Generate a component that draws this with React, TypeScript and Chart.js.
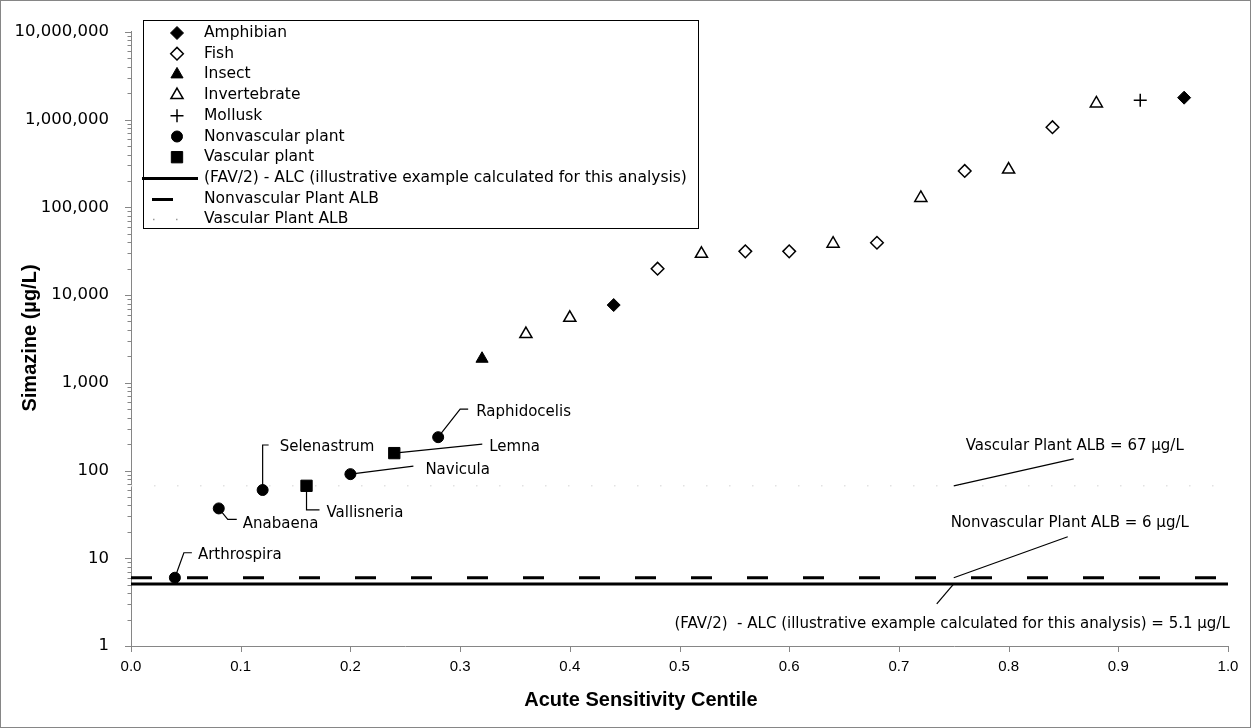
import React, { useEffect, useRef } from 'react';
import { Chart, registerables } from 'chart.js';

Chart.register(...registerables);

// ---------------- data ----------------
const amphibianX = [0.44, 0.96];
const amphibianY = [7700, 1780000];
const fishX = [0.48, 0.56, 0.6, 0.68, 0.76, 0.84];
const fishY = [20000, 31500, 31500, 39500, 260000, 820000];
const insectX = [0.32];
const insectY = [1880];
const invertebrateX = [0.36, 0.4, 0.52, 0.64, 0.72, 0.8, 0.88];
const invertebrateY = [3600, 5500, 29500, 38500, 128000, 270000, 1530000];
const molluskX = [0.92];
const molluskY = [1660000];
const nonvascularX = [0.04, 0.08, 0.12, 0.2, 0.28];
const nonvascularY = [6, 37, 60, 91, 240];
const nonvascularNames = ['Arthrospira', 'Anabaena', 'Selenastrum', 'Navicula', 'Raphidocelis'];
const vascularX = [0.16, 0.24];
const vascularY = [67, 158];
const vascularNames = ['Vallisneria', 'Lemna'];

const favHalfMinusAlc = 5.1;
const nonvascularAlb = 6;
const vascularAlb = 67;
const refLineX = [0, 1];

const xTickValues = [0, 0.1, 0.2, 0.3, 0.4, 0.5, 0.6, 0.7, 0.8, 0.9, 1.0];
const yTickValues = [1, 10, 100, 1000, 10000, 100000, 1000000, 10000000];

const xTitle = 'Acute Sensitivity Centile';
const yTitle = 'Simazine (µg/L)';
const favLabel = '(FAV/2) - ALC (illustrative example calculated for this analysis)';

// ---------------- layout / style (pixel offsets only) ----------------
const calloutLayout: Record<string, { path: number[][]; text: number[] }> = {
  Arthrospira: { path: [[9, -25], [17, -25]], text: [23, -23] },
  Anabaena: { path: [[9, 11], [18, 11]], text: [24, 16] },
  Selenastrum: { path: [[0, -45], [6, -45]], text: [17, -43] },
  Navicula: { path: [[63, -8]], text: [75, -4] },
  Raphidocelis: { path: [[22, -28], [30, -28]], text: [38, -25] },
  Vallisneria: { path: [[0, 24], [13, 24]], text: [20, 27] },
  Lemna: { path: [[88, -9]], text: [95, -6] },
};
const refAnchorX = 0.75;
const refLineNotes = [
  { value: vascularAlb, text: `Vascular Plant ALB = ${vascularAlb} µg/L`, path: [[120, -27]], at: [121, -40], align: 'center' },
  { value: nonvascularAlb, text: `Nonvascular Plant ALB = ${nonvascularAlb} µg/L`, path: [[114, -41]], at: [116, -55], align: 'center' },
  { value: favHalfMinusAlc, text: `(FAV/2)  - ALC (illustrative example calculated for this analysis) = ${favHalfMinusAlc} µg/L`, path: [[-17, 20]], at: [276, 40], align: 'right' },
];

const ANN_FONT = '15px "DejaVu Sans", sans-serif';
const LEG_FONT = '15.5px "DejaVu Sans", sans-serif';
const TITLE_FONT = 'bold 20px "Liberation Sans", Arial, sans-serif';
const AXIS_GRAY = '#868686';
const X_TITLE_POS = [641, 700];
const Y_TITLE_POS = [30, 338];

function drawMarker(ctx: CanvasRenderingContext2D, style: string, x: number, y: number, r: number, fill: string, stroke: string, lw: number) {
  ctx.save();
  ctx.beginPath();
  ctx.lineWidth = lw;
  ctx.strokeStyle = stroke;
  ctx.fillStyle = fill;
  if (style === 'rectRot') {
    ctx.moveTo(x - r, y); ctx.lineTo(x, y - r); ctx.lineTo(x + r, y); ctx.lineTo(x, y + r); ctx.closePath();
    ctx.fill(); ctx.stroke();
  } else if (style === 'triangle') {
    const a = (2 * Math.PI) / 3;
    ctx.moveTo(x, y - r);
    ctx.lineTo(x + Math.sin(a) * r, y - Math.cos(a) * r);
    ctx.lineTo(x + Math.sin(2 * a) * r, y - Math.cos(2 * a) * r);
    ctx.closePath(); ctx.fill(); ctx.stroke();
  } else if (style === 'cross') {
    ctx.moveTo(x - r, y); ctx.lineTo(x + r, y); ctx.moveTo(x, y - r); ctx.lineTo(x, y + r); ctx.stroke();
  } else if (style === 'circle') {
    ctx.arc(x, y, r, 0, Math.PI * 2); ctx.fill(); ctx.stroke();
  } else if (style === 'rect') {
    const s = r * Math.SQRT1_2;
    ctx.rect(x - s, y - s, 2 * s, 2 * s); ctx.fill(); ctx.stroke();
  }
  ctx.restore();
}

const backgroundPlugin = {
  id: 'bg',
  beforeDraw(chart: any) {
    const { ctx, width, height } = chart;
    ctx.save();
    ctx.fillStyle = '#fff';
    ctx.fillRect(0, 0, width, height);
    ctx.restore();
  },
  afterDraw(chart: any) {
    const { ctx, width, height } = chart;
    ctx.save();
    ctx.strokeStyle = AXIS_GRAY;
    ctx.lineWidth = 1;
    ctx.strokeRect(0.5, 0.5, width - 1, height - 1);
    ctx.restore();
  },
};

const ticksAndTitlesPlugin = {
  id: 'ticksTitles',
  afterDraw(chart: any) {
    const { ctx, chartArea, scales } = chart;
    const xs = scales.x, ys = scales.y;
    ctx.save();
    ctx.strokeStyle = AXIS_GRAY;
    ctx.lineWidth = 1;
    ctx.beginPath();
    for (let i = 0; i < yTickValues.length; i++) {
      const v = yTickValues[i];
      const py = Math.round(ys.getPixelForValue(v)) + 0.5;
      ctx.moveTo(chartArea.left - 6, py); ctx.lineTo(chartArea.left, py);
      if (i < yTickValues.length - 1) {
        for (let k = 2; k <= 9; k++) {
          const pm = Math.round(ys.getPixelForValue(v * k)) + 0.5;
          ctx.moveTo(chartArea.left - 3.5, pm); ctx.lineTo(chartArea.left, pm);
        }
      }
    }
    for (const v of xTickValues) {
      const px = Math.round(xs.getPixelForValue(v)) + 0.5;
      ctx.moveTo(px, chartArea.bottom); ctx.lineTo(px, chartArea.bottom + 6);
    }
    ctx.stroke();

    ctx.fillStyle = '#000';
    ctx.font = TITLE_FONT;
    ctx.textAlign = 'center';
    ctx.textBaseline = 'middle';
    ctx.fillText(xTitle, X_TITLE_POS[0], X_TITLE_POS[1]);
    ctx.translate(Y_TITLE_POS[0], Y_TITLE_POS[1]);
    ctx.rotate(-Math.PI / 2);
    ctx.fillText(yTitle, 0, 0);
    ctx.restore();
  },
};

const calloutPlugin = {
  id: 'callouts',
  beforeDatasetsDraw(chart: any) {
    const { ctx, scales } = chart;
    const xs = scales.x, ys = scales.y;
    ctx.save();
    ctx.strokeStyle = '#000';
    ctx.fillStyle = '#000';
    ctx.lineWidth = 1.2;
    ctx.font = ANN_FONT;
    ctx.textBaseline = 'middle';
    const groups: [number[], number[], string[]][] = [
      [nonvascularX, nonvascularY, nonvascularNames],
      [vascularX, vascularY, vascularNames],
    ];
    for (const [gx, gy, names] of groups) {
      names.forEach((name, i) => {
        const lay = calloutLayout[name];
        if (!lay) return;
        const px = xs.getPixelForValue(gx[i]);
        const py = ys.getPixelForValue(gy[i]);
        ctx.beginPath();
        ctx.moveTo(px, py);
        for (const [dx, dy] of lay.path) ctx.lineTo(px + dx, py + dy);
        ctx.stroke();
        ctx.textAlign = 'left';
        ctx.fillText(name, px + lay.text[0], py + lay.text[1]);
      });
    }
    for (const note of refLineNotes) {
      const px = xs.getPixelForValue(refAnchorX);
      const py = ys.getPixelForValue(note.value);
      ctx.beginPath();
      ctx.moveTo(px, py);
      for (const [dx, dy] of note.path) ctx.lineTo(px + dx, py + dy);
      ctx.stroke();
      ctx.textAlign = note.align as CanvasTextAlign;
      ctx.fillText(note.text, px + note.at[0], py + note.at[1]);
    }
    ctx.restore();
  },
};

const legendPlugin = {
  id: 'boxLegend',
  afterDatasetsDraw(chart: any) {
    const { ctx } = chart;
    const left = 143, top = 20, right = 698, bottom = 228;
    const firstY = 33, step = 20.7;
    ctx.save();
    ctx.fillStyle = '#fff';
    ctx.fillRect(left, top, right - left, bottom - top);
    ctx.strokeStyle = '#000';
    ctx.lineWidth = 1;
    ctx.strokeRect(left + 0.5, top + 0.5, right - left, bottom - top);
    chart.data.datasets.forEach((ds: any, i: number) => {
      const y = firstY + i * step;
      if (ds.showLine) {
        ctx.save();
        ctx.strokeStyle = ds.legendColor || ds.borderColor;
        ctx.lineWidth = ds.borderWidth;
        ctx.setLineDash(ds.borderDash || []);
        ctx.lineDashOffset = ds.legendDashOffset || 0;
        ctx.beginPath();
        ctx.moveTo(142, Math.round(y) + 0.5);
        ctx.lineTo(198, Math.round(y) + 0.5);
        ctx.stroke();
        ctx.restore();
      } else {
        drawMarker(ctx, ds.pointStyle, 177, y, ds.pointRadius, ds.backgroundColor, ds.borderColor, ds.borderWidth);
      }
      ctx.fillStyle = '#000';
      ctx.font = LEG_FONT;
      ctx.textAlign = 'left';
      ctx.textBaseline = 'middle';
      ctx.fillText(ds.label, 204, y);
    });
    ctx.restore();
  },
};

export default function App() {
  const ref = useRef<HTMLCanvasElement>(null);
  useEffect(() => {
    const canvas = ref.current;
    if (!canvas) return;
    const pts = (xs: number[], ys: number[]) => xs.map((x, i) => ({ x, y: ys[i] }));
    const flat = (v: number) => refLineX.map((x) => ({ x, y: v }));
    const chart = new Chart(canvas, {
      type: 'scatter',
      data: {
        datasets: [
          { label: 'Amphibian', data: pts(amphibianX, amphibianY), pointStyle: 'rectRot', pointRadius: 6.5, backgroundColor: '#000', borderColor: '#000', borderWidth: 1, order: 1 },
          { label: 'Fish', data: pts(fishX, fishY), pointStyle: 'rectRot', pointRadius: 6.3, backgroundColor: '#fff', borderColor: '#000', borderWidth: 1.5, order: 1 },
          { label: 'Insect', data: pts(insectX, insectY), pointStyle: 'triangle', pointRadius: 7, backgroundColor: '#000', borderColor: '#000', borderWidth: 1, order: 1 },
          { label: 'Invertebrate', data: pts(invertebrateX, invertebrateY), pointStyle: 'triangle', pointRadius: 7, backgroundColor: '#fff', borderColor: '#000', borderWidth: 1.5, order: 1 },
          { label: 'Mollusk', data: pts(molluskX, molluskY), pointStyle: 'cross', pointRadius: 6.5, backgroundColor: '#000', borderColor: '#000', borderWidth: 1.5, order: 1 },
          { label: 'Nonvascular plant', data: pts(nonvascularX, nonvascularY), pointStyle: 'circle', pointRadius: 5.5, backgroundColor: '#000', borderColor: '#000', borderWidth: 1, order: 1 },
          { label: 'Vascular plant', data: pts(vascularX, vascularY), pointStyle: 'rect', pointRadius: 8, backgroundColor: '#000', borderColor: '#000', borderWidth: 1, order: 1 },
          { label: favLabel, data: flat(favHalfMinusAlc), showLine: true, pointRadius: 0, borderColor: '#000', borderWidth: 3, order: 5 },
          { label: 'Nonvascular Plant ALB', data: flat(nonvascularAlb), showLine: true, pointRadius: 0, borderColor: '#000', borderWidth: 3, borderDash: [21, 35], legendDashOffset: 46, order: 5 },
          { label: 'Vascular Plant ALB', data: flat(vascularAlb), showLine: true, pointRadius: 0, borderColor: '#e2e2e2', legendColor: '#9a9a9a', borderWidth: 1.5, borderDash: [1.5, 21.5], legendDashOffset: 12, order: 5 },
        ] as any,
      },
      options: {
        responsive: false,
        animation: false,
        devicePixelRatio: 1,
        events: [],
        layout: { padding: { top: 21, right: 23, left: 0, bottom: 0 } },
        plugins: { legend: { display: false }, tooltip: { enabled: false } },
        scales: {
          x: {
            type: 'linear',
            min: 0,
            max: 1,
            afterBuildTicks: (s: any) => { s.ticks = xTickValues.map((v) => ({ value: v })); },
            afterFit: (s: any) => { s.height = 82; },
            ticks: {
              autoSkip: false,
              maxRotation: 0,
              color: '#000',
              padding: 12,
              font: { family: '"Liberation Sans", Arial, sans-serif', size: 15 },
              callback: (v: any) => Number(v).toFixed(1),
            },
            grid: { display: false, drawTicks: false },
            border: { display: true, color: AXIS_GRAY, width: 1 },
          },
          y: {
            type: 'logarithmic',
            min: 1,
            max: 10000000,
            afterBuildTicks: (s: any) => { s.ticks = yTickValues.map((v) => ({ value: v })); },
            afterFit: (s: any) => { s.width = 131; },
            ticks: {
              autoSkip: false,
              color: '#000',
              padding: 22,
              font: { family: '"DejaVu Sans", sans-serif', size: 16.5 },
              callback: (v: any) => Number(v).toLocaleString('en-US'),
            },
            grid: { display: false, drawTicks: false },
            border: { display: true, color: AXIS_GRAY, width: 1 },
          },
        },
      } as any,
      plugins: [backgroundPlugin, calloutPlugin, legendPlugin, ticksAndTitlesPlugin],
    });
    return () => chart.destroy();
  }, []);

  return (
    <div style={{ position: 'absolute', left: 0, top: 0, width: 1251, height: 728, background: '#fff' }}>
      <canvas ref={ref} width={1251} height={728} style={{ display: 'block' }} />
    </div>
  );
}
